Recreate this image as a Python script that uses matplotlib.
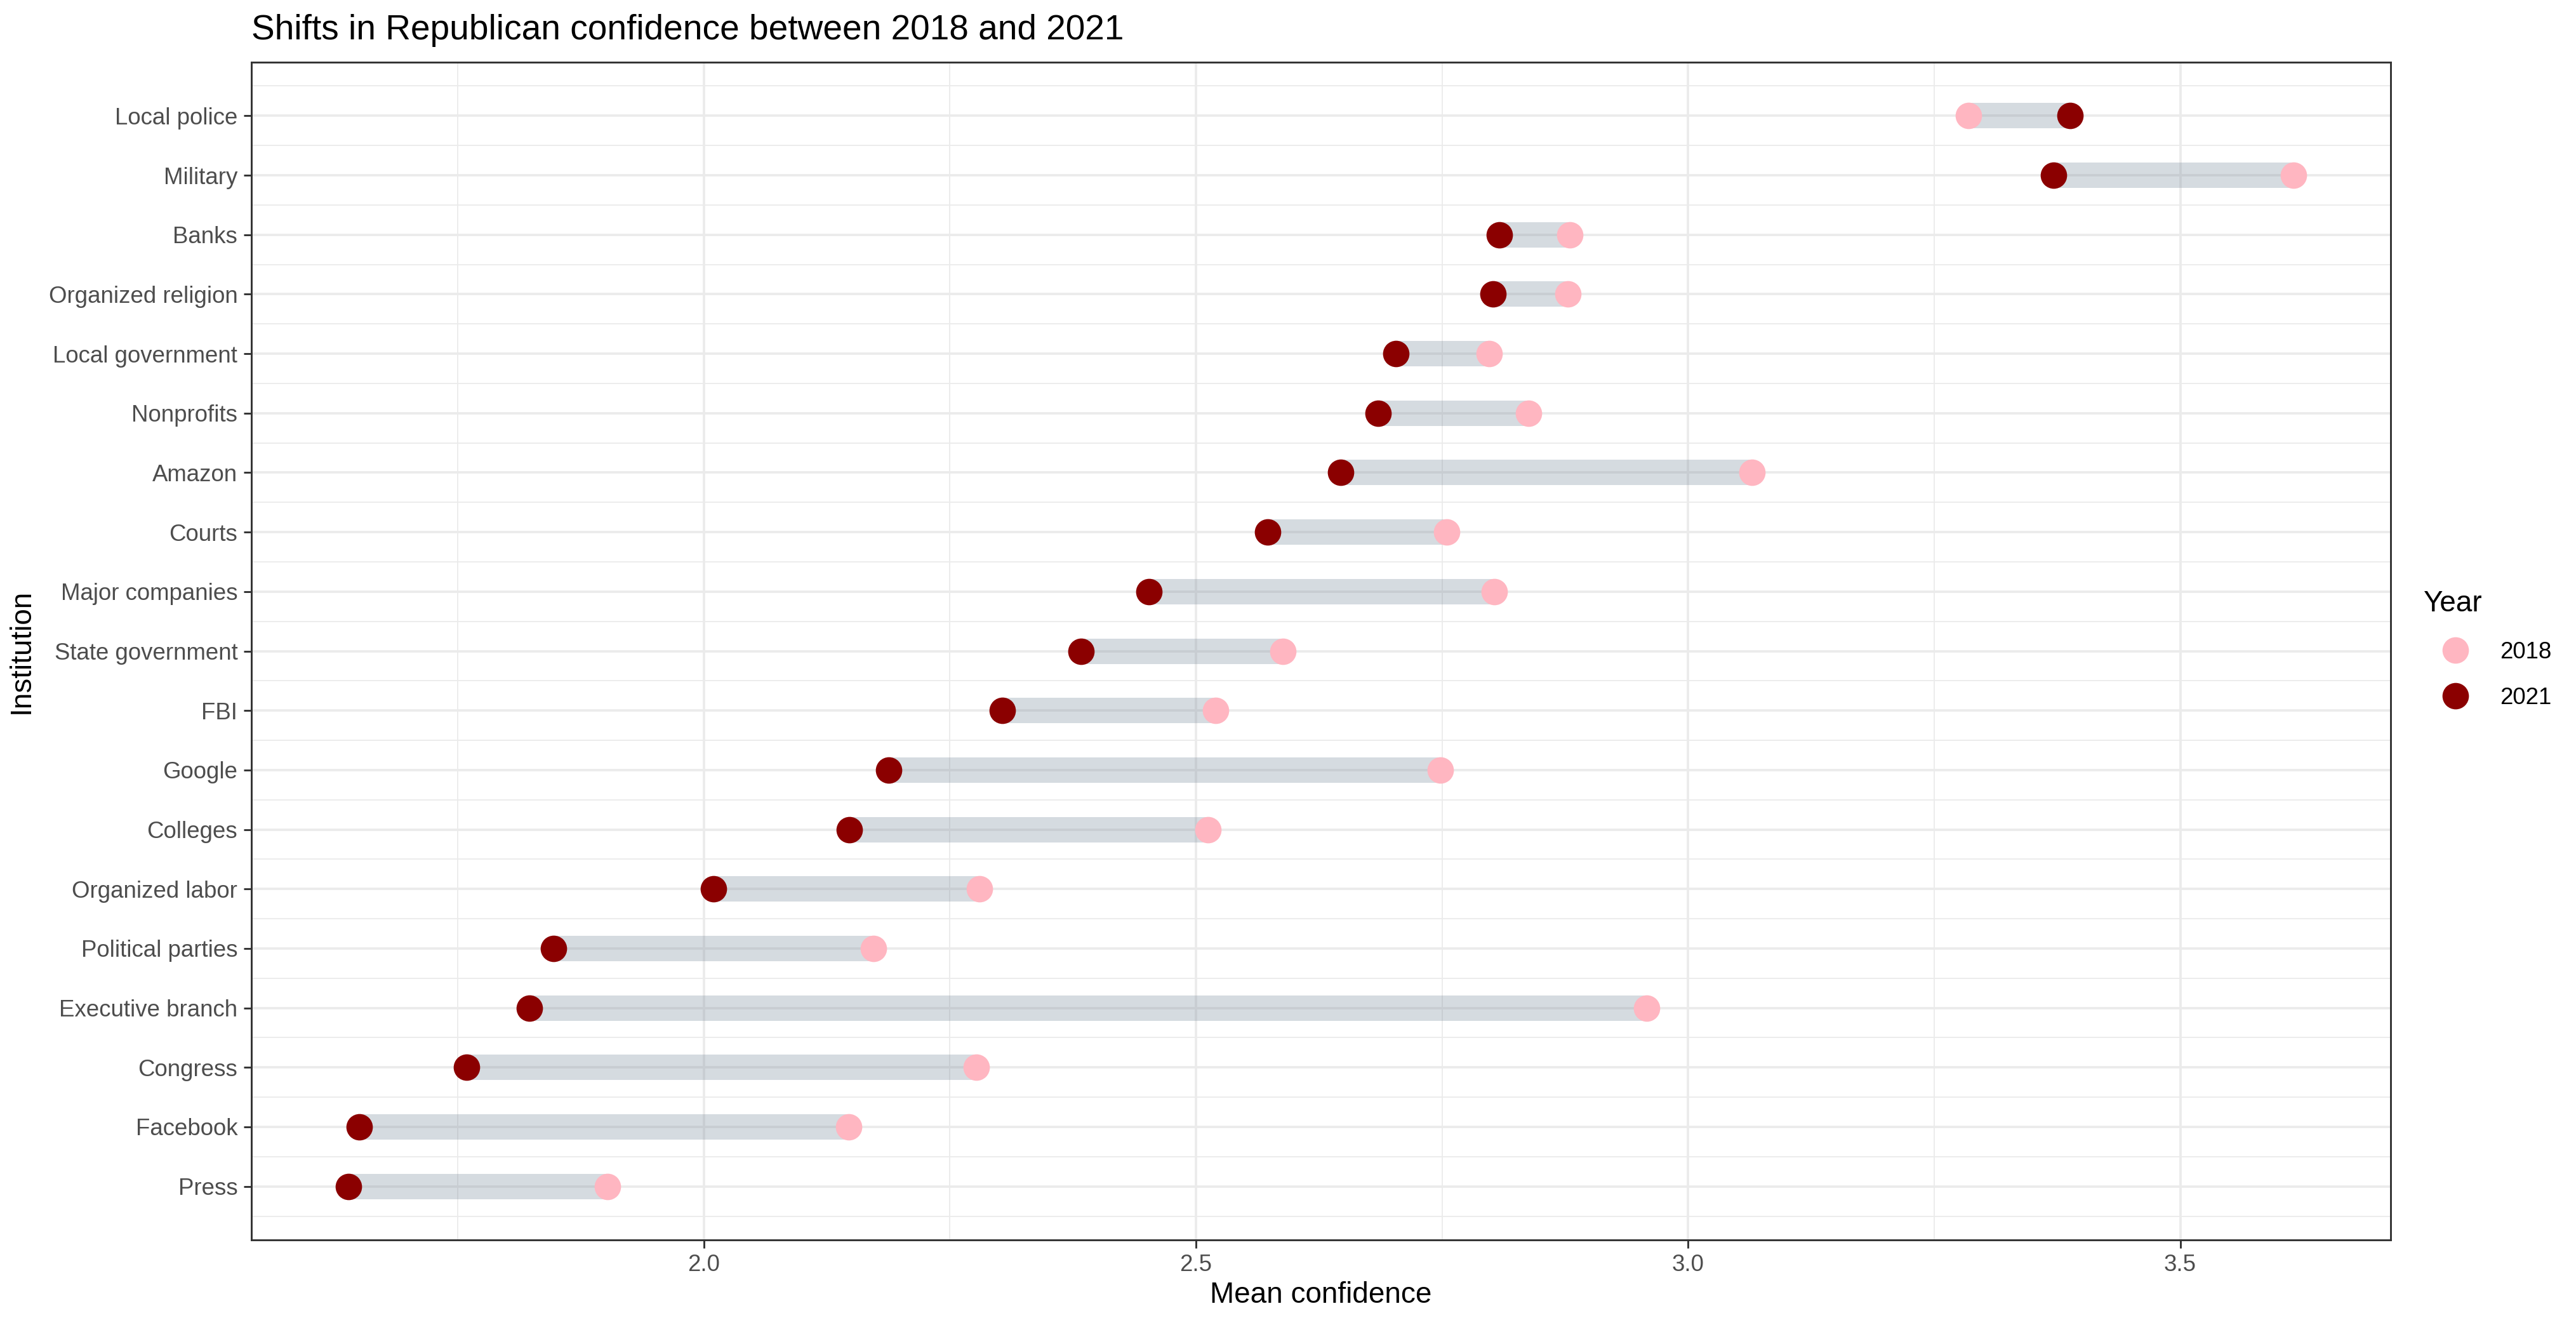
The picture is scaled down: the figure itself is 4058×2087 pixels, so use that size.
import matplotlib
matplotlib.use("Agg")
import matplotlib.pyplot as plt
from matplotlib.lines import Line2D
from matplotlib.ticker import MultipleLocator, FixedLocator, FormatStrFormatter
import numpy as np

plt.rcParams["font.family"] = ["Liberation Sans", "DejaVu Sans"]

# ---------------------------------------------------------------------------
# Data (mean confidence among Republicans), listed top to bottom
# ---------------------------------------------------------------------------
institutions = [
    "Local police", "Military", "Banks", "Organized religion", "Local government",
    "Nonprofits", "Amazon", "Courts", "Major companies", "State government",
    "FBI", "Google", "Colleges", "Organized labor", "Political parties",
    "Executive branch", "Congress", "Facebook", "Press",
]
conf_2018 = [3.285, 3.615, 2.880, 2.878, 2.798, 2.838, 3.065, 2.755, 2.803, 2.588,
             2.520, 2.748, 2.512, 2.280, 2.172, 2.958, 2.277, 2.147, 1.902]
conf_2021 = [3.388, 3.371, 2.808, 2.802, 2.703, 2.685, 2.647, 2.573, 2.452, 2.383,
             2.303, 2.188, 2.148, 2.010, 1.847, 1.823, 1.759, 1.650, 1.639]
years = ["2018", "2021"]
year_colors = {"2018": "#FFB6C1", "2021": "#8B0000"}

# ---------------------------------------------------------------------------
# Plot
# ---------------------------------------------------------------------------
fig = plt.figure(figsize=(4058 / 300, 2087 / 300), dpi=300)
ax = fig.add_axes([396 / 4058, 1 - 1953 / 2087, (3766 - 396) / 4058, (1953 - 98) / 2087])

n = len(institutions)
ypos = np.arange(n, 0, -1)  # top row gets the highest value
x18 = np.array(conf_2018)
x21 = np.array(conf_2021)

# dumbbell bars between the two years
bars = ax.hlines(ypos, np.minimum(x18, x21), np.maximum(x18, x21),
                 color="#778899", alpha=0.3, linewidth=9.6, zorder=2)
bars.set_capstyle("butt")

ax.scatter(x18, ypos, s=100, color=year_colors["2018"], linewidths=0, zorder=3)
ax.scatter(x21, ypos, s=100, color=year_colors["2021"], linewidths=0, zorder=4)

# scales, ggplot-like 5% expansion
lo = min(x18.min(), x21.min())
hi = max(x18.max(), x21.max())
pad = (hi - lo) * 0.05
ax.set_xlim(lo - pad, hi + pad)
ypad = (n - 1) * 0.05
ax.set_ylim(1 - ypad, n + ypad)

ax.xaxis.set_major_locator(MultipleLocator(0.5))
ax.xaxis.set_minor_locator(FixedLocator([1.75, 2.25, 2.75, 3.25]))
ax.xaxis.set_major_formatter(FormatStrFormatter("%.1f"))
ax.set_yticks(ypos)
ax.set_yticklabels(institutions)
ax.yaxis.set_minor_locator(FixedLocator(np.arange(0.5, n + 1, 1.0)))

ax.grid(which="major", color="#EBEBEB", linewidth=0.9, zorder=0)
ax.grid(which="minor", color="#EBEBEB", linewidth=0.45, zorder=0)
ax.set_axisbelow(True)

ax.tick_params(which="major", length=3, width=0.7, color="#333333",
               labelsize=8.8, labelcolor="#4D4D4D", pad=2.2)
ax.tick_params(which="minor", length=0)
for sp in ax.spines.values():
    sp.set_color("#333333")
    sp.set_linewidth(0.7)

ax.set_xlabel("Mean confidence", fontsize=11, color="black", labelpad=2)
ax.set_ylabel("Institution", fontsize=11, color="black", labelpad=5)

fig.text(396 / 4058, 1 - 62 / 2087, "Shifts in Republican confidence between 2018 and 2021",
         fontsize=13.2, ha="left", va="baseline")

# legend
handles = [Line2D([], [], linestyle="none", marker="o", markersize=10,
                  markerfacecolor=year_colors[y], markeredgewidth=0) for y in years]
leg = fig.legend(handles, years, title="Year", loc="center left",
                 bbox_to_anchor=(3784 / 4058, 1 - 1023 / 2087), frameon=False,
                 fontsize=8.8, title_fontsize=11, alignment="left",
                 handlelength=2.8, handletextpad=0.5, labelspacing=1.0)

fig.savefig("out.png", dpi=300)
